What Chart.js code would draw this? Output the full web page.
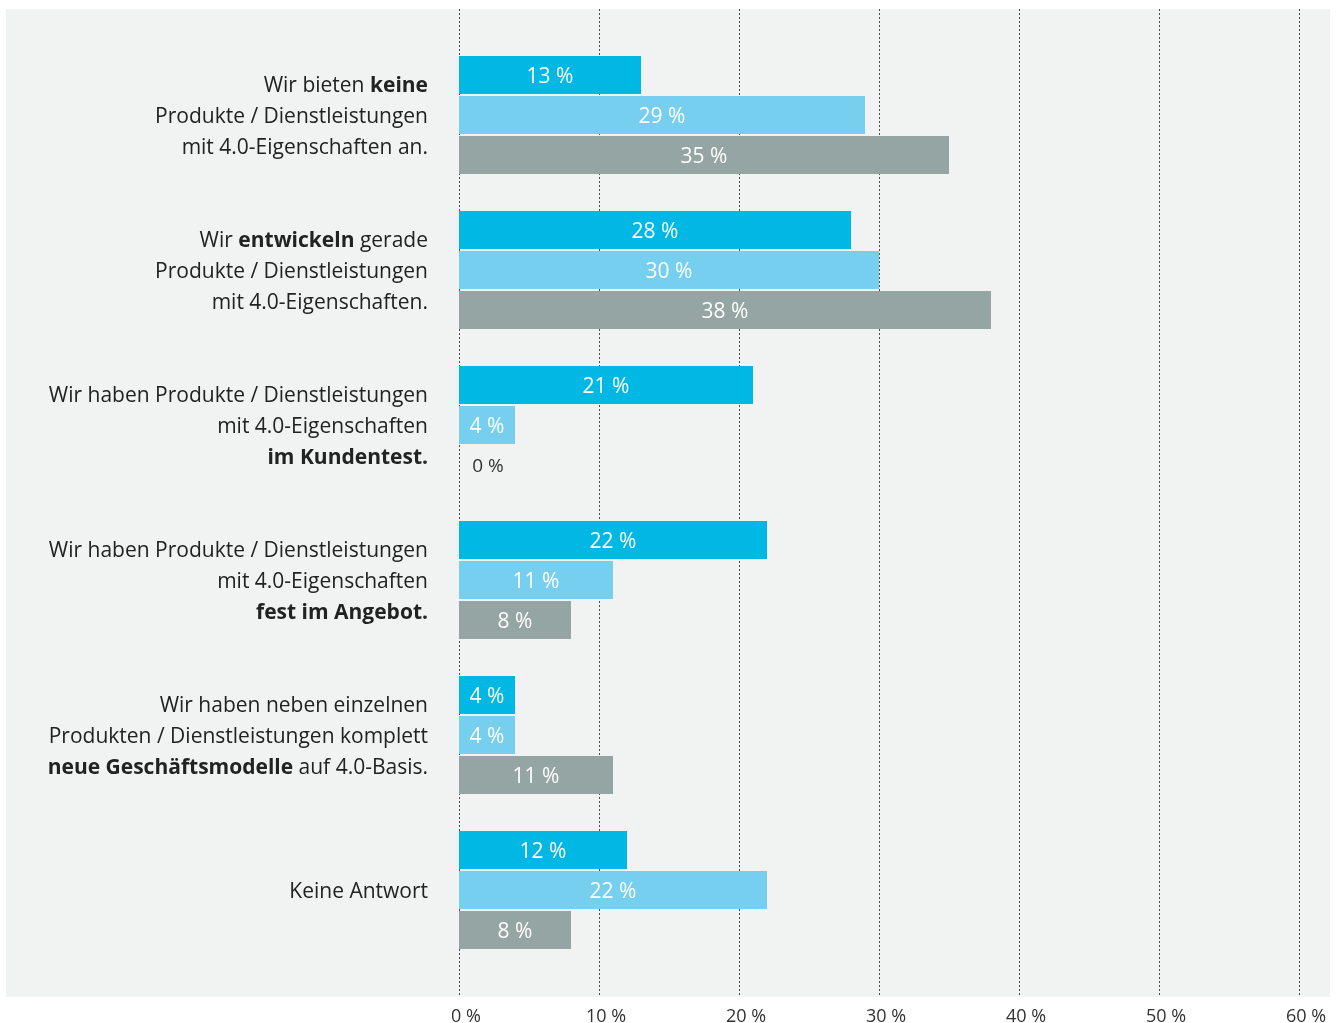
<!DOCTYPE html>
<html>
<head>
<meta charset="utf-8">
<script src="https://cdn.jsdelivr.net/npm/chart.js@4"></script>
<style>
	html, body { margin: 0; padding: 0; background: #ffffff; }
	#wrap { width: 1343px; height: 1023px; }
</style>
</head>
<body>
<div id="wrap"><canvas id="myChart" width="1343" height="1023"></canvas></div>
<script>
// Kategorien (Zeilen), **...** wird fett gesetzt
var categories = [
	["Wir bieten **keine**", "Produkte / Dienstleistungen", "mit 4.0-Eigenschaften an."],
	["Wir **entwickeln** gerade", "Produkte / Dienstleistungen", "mit 4.0-Eigenschaften."],
	["Wir haben Produkte / Dienstleistungen", "mit 4.0-Eigenschaften", "**im Kundentest.**"],
	["Wir haben Produkte / Dienstleistungen", "mit 4.0-Eigenschaften", "**fest im Angebot.**"],
	["Wir haben neben einzelnen", "Produkten / Dienstleistungen komplett", "**neue Geschäftsmodelle** auf 4.0-Basis."],
	["Keine Antwort"]
];

var serie1 = [13, 28, 21, 22, 4, 12];
var serie2 = [29, 30, 4, 11, 4, 22];
var serie3 = [35, 38, 0, 8, 11, 8];

var xTicks = [0, 10, 20, 30, 40, 50, 60];

var colores = ["#00b8e3", "#76cfee", "#95a5a3"];
var FONT = "'Open Sans', 'Noto Sans', sans-serif";

// Hintergrundfläche + gepunktete Hilfslinien
var fondo = {
	id: 'fondo',
	beforeDraw: function(chart) {
		var ctx = chart.ctx;
		ctx.save();
		ctx.fillStyle = "#f1f2f2";
		ctx.fillRect(6, 9, 1324, 988);
		ctx.restore();
	},
	beforeDatasetsDraw: function(chart) {
		var ctx = chart.ctx;
		var x = chart.scales.x;
		ctx.save();
		ctx.strokeStyle = "#4d4d4d";
		ctx.lineWidth = 1;
		ctx.setLineDash([2, 2]);
		for (var i = 0; i < x.ticks.length; i++) {
			var px = Math.round(x.getPixelForValue(x.ticks[i].value)) + 0.5;
			ctx.beginPath();
			ctx.moveTo(px, 9);
			ctx.lineTo(px, 997);
			ctx.stroke();
		}
		ctx.restore();
	}
};

// Werte in den Balken
var valores = {
	id: 'valores',
	afterDatasetsDraw: function(chart) {
		var ctx = chart.ctx;
		ctx.save();
		ctx.textAlign = "center";
		ctx.textBaseline = "middle";
		chart.data.datasets.forEach(function(ds, d) {
			var meta = chart.getDatasetMeta(d);
			meta.data.forEach(function(bar, i) {
				var v = ds.data[i];
				var txt = v + " %";
				if (v > 0) {
					ctx.font = "21px " + FONT;
					ctx.fillStyle = "#ffffff";
					ctx.fillText(txt, (bar.base + bar.x) / 2, bar.y + 2);
				} else {
					ctx.font = "19px " + FONT;
					ctx.fillStyle = "#333333";
					ctx.fillText(txt, bar.base + 29, bar.y + 2);
				}
			});
		});
		ctx.restore();
	}
};

// Beschriftung der Kategorien mit fetten Teilen
var etiquetas = {
	id: 'etiquetas',
	afterDraw: function(chart) {
		var ctx = chart.ctx;
		var y = chart.scales.y;
		var right = chart.chartArea.left - 31;
		var lh = 31;
		ctx.save();
		ctx.textBaseline = "middle";
		ctx.textAlign = "left";
		ctx.fillStyle = "#222222";
		categories.forEach(function(lines, i) {
			var cy = y.getPixelForValue(i) + 2;
			var y0 = cy - (lines.length - 1) * lh / 2;
			lines.forEach(function(line, j) {
				var parts = line.split("**");
				var segs = [];
				var total = 0;
				parts.forEach(function(p, k) {
					if (!p) return;
					ctx.font = (k % 2 ? "bold " : "") + "21px " + FONT;
					var w = ctx.measureText(p).width;
					segs.push({ t: p, b: k % 2, w: w });
					total += w;
				});
				var x = right - total;
				segs.forEach(function(s) {
					ctx.font = (s.b ? "bold " : "") + "21px " + FONT;
					ctx.fillText(s.t, x, y0 + j * lh);
					x += s.w;
				});
			});
		});
		ctx.restore();
	}
};

var ctx = document.getElementById("myChart").getContext('2d');
var chart = new Chart(ctx, {
	type: 'bar',
	data: {
		labels: categories.map(function(c) { return c.join(" ").replace(/\*\*/g, ""); }),
		datasets: [
			{ label: 'Serie 1', data: serie1, backgroundColor: colores[0] },
			{ label: 'Serie 2', data: serie2, backgroundColor: colores[1] },
			{ label: 'Serie 3', data: serie3, backgroundColor: colores[2] }
		]
	},
	options: {
		indexAxis: 'y',
		responsive: false,
		animation: false,
		categoryPercentage: 120 / 155,
		barPercentage: 0.95,
		layout: { padding: { left: 459, right: 44, top: 37.5, bottom: 0 } },
		plugins: {
			legend: { display: false },
			tooltip: { enabled: false }
		},
		scales: {
			y: { display: false },
			x: {
				min: 0,
				max: 60,
				afterBuildTicks: function(scale) {
					scale.ticks = xTicks.map(function(v) { return { value: v }; });
				},
				afterFit: function(scale) {
					scale.height = 55.5;
					scale.paddingLeft = 0;
					scale.paddingRight = 0;
				},
				border: { display: false },
				grid: { display: false, drawTicks: false },
				ticks: {
					padding: 39,
					labelOffset: 7,
					color: "#333333",
					font: { family: FONT, size: 18 },
					callback: function(v) { return v + " %"; }
				}
			}
		}
	},
	plugins: [fondo, valores, etiquetas]
});
</script>
</body>
</html>
